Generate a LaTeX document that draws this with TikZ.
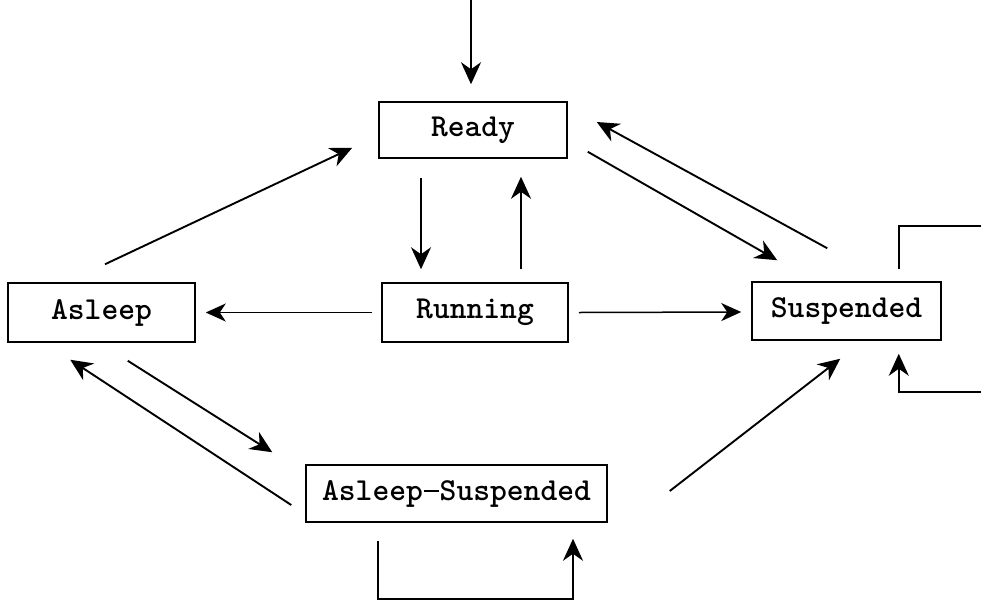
\documentclass[tikz,border=0pt]{standalone}
\usetikzlibrary{arrows.meta}
\newcommand{\longdash}{\makebox[0.525em]{\rule[0.24em]{0.47em}{0.06em}}}
\begin{document}
\begin{tikzpicture}[x=1pt,y=-1pt,
  statebox/.style={draw,line width=1.5pt,inner sep=0pt,font=\fontsize{32}{36}\selectfont\ttfamily\bfseries},
  conn/.style={line width=1.9pt,-{Stealth[length=22pt,width=20pt,inset=7pt]}},
  thinconn/.style={line width=1.5pt,-{Stealth[length=20pt,width=18pt,inset=6pt]}},
  loopline/.style={line width=1.9pt}]
\clip (0,0) rectangle (981,600);
\fill[white] (0,0) rectangle (981,600);

\node[statebox,minimum width=188pt,minimum height=56pt] (ready) at (473,130) {Ready};
\node[statebox,minimum width=186pt,minimum height=59pt] (running) at (475,312.5) {Running};
\node[statebox,minimum width=187pt,minimum height=59pt] (asleep) at (101.5,312.5) {Asleep};
\node[statebox,minimum width=189pt,minimum height=58pt] (susp) at (846.5,311) {Suspended};
\node[statebox,minimum width=301pt,minimum height=57pt] (assusp) at (456.5,493.5) {Asleep\longdash Suspended};

\coordinate (entry) at (471,-5);
\coordinate (loopR1) at (1000,226);
\coordinate (loopR2) at (1000,392);

% entry
\draw[conn] (entry) -- ([shift={(-2,-17)}]ready.north);
% Ready <-> Running
\draw[conn] ([shift={(-52,19)}]ready.south) -- ([shift={(-54,-13)}]running.north);
\draw[conn] ([shift={(46,-13)}]running.north) -- ([shift={(48,18)}]ready.south);
% Running -> Asleep, Suspended
\draw[thinconn] ([shift={(-9,0)}]running.west) -- ([shift={(10,0)}]asleep.east);
\draw[thinconn] ([shift={(10,0)}]running.east) -- ([shift={(-10,1)}]susp.west);
% Asleep -> Ready
\draw[conn] ([shift={(3.5,-18)}]asleep.north) -- ([shift={(-26,-11)}]ready.south west);
% Ready <-> Suspended
\draw[conn] ([shift={(20,-7)}]ready.south east) -- ([shift={(26,-21)}]susp.north west);
\draw[conn] ([shift={(76,-33)}]susp.north west) -- ([shift={(29,-8)}]ready.east);
% Asleep <-> Asleep-Suspended
\draw[conn] ([shift={(-68,18)}]asleep.south east) -- ([shift={(-33,-12)}]assusp.north west);
\draw[conn] ([shift={(-14,11.5)}]assusp.west) -- ([shift={(63,17)}]asleep.south west);
% Asleep-Suspended -> Suspended
\draw[conn] ([shift={(62,-2.5)}]assusp.east) -- ([shift={(89,18)}]susp.south west);
% Suspended self loop
\draw[loopline] ([shift={(-43,-12)}]susp.north east) |- (loopR1);
\draw[conn] (loopR2) -| ([shift={(-43,13)}]susp.south east);
% Asleep-Suspended self loop
\draw[conn] ([shift={(-78.5,18)}]assusp.south) -- ++(0,58) -| ([shift={(116.5,16)}]assusp.south);
\end{tikzpicture}
\end{document}
